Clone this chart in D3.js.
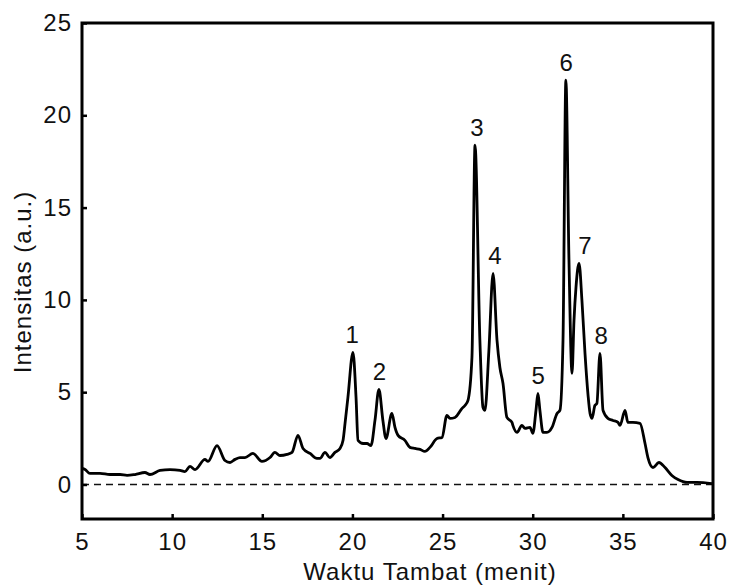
<!DOCTYPE html>
<html>
<head>
<meta charset="utf-8">
<script src="https://d3js.org/d3.v7.min.js"></script>
<style>
  body { margin: 0; background: #fff; }
  text { font-family: "Liberation Sans", Arial, sans-serif; fill: #111; }
</style>
</head>
<body>
<script>
// chromatogram trace (time in minutes, intensity in a.u.)
var times = [5.0, 5.17, 5.44, 6.0, 6.55, 7.11, 7.5, 7.94, 8.49, 8.77, 9.33, 9.88, 10.44, 10.71, 10.99,
  11.27, 11.82, 11.99, 12.49, 12.93, 13.21, 13.49, 13.76, 14.04, 14.48, 14.98, 15.43, 15.70, 15.98,
  16.37, 16.65, 16.98, 17.26, 17.65, 18.03, 18.20, 18.48, 18.75, 19.03, 19.31, 19.48, 19.59, 19.75,
  20.03, 20.20, 20.31, 20.59, 20.81, 21.03, 21.25, 21.47, 21.69, 21.86, 22.19, 22.36, 22.53, 22.91,
  23.19, 23.47, 23.75, 24.02, 24.30, 24.69, 24.97, 25.24, 25.41, 25.69, 26.08, 26.24, 26.41, 26.63,
  26.80, 27.07, 27.24, 27.35, 27.57, 27.80, 28.02, 28.18, 28.35, 28.57, 28.85, 28.90, 29.13, 29.40,
  29.57, 29.85, 30.01, 30.18, 30.29, 30.40, 30.57, 30.79, 31.07, 31.35, 31.51, 31.68, 31.84, 32.01,
  32.18, 32.29, 32.40, 32.57, 32.73, 32.90, 33.07, 33.18, 33.29, 33.45, 33.56, 33.73, 33.90, 34.17,
  34.45, 34.73, 34.84, 35.12, 35.28, 35.56, 35.95, 36.23, 36.39, 36.67, 37.00, 37.34, 37.72, 38.06,
  38.56, 39.11, 39.94];
var intensity = [0.87, 0.81, 0.60, 0.60, 0.54, 0.54, 0.49, 0.54, 0.65, 0.54, 0.76, 0.81, 0.76, 0.70, 0.98,
  0.81, 1.36, 1.25, 2.11, 1.30, 1.19, 1.36, 1.46, 1.46, 1.68, 1.25, 1.46, 1.74, 1.57,
  1.63, 1.74, 2.66, 1.95, 1.68, 1.41, 1.41, 1.74, 1.46, 1.74, 1.95, 2.39, 3.31, 4.72,
  7.16, 4.72, 2.39, 2.22, 2.22, 2.11, 3.47, 5.15, 3.47, 2.49, 3.85, 3.09, 2.66, 2.39,
  2.01, 1.95, 1.90, 1.79, 2.01, 2.49, 2.55, 3.74, 3.58, 3.63, 4.12, 4.28, 4.56, 6.89,
  18.38, 7.81, 4.18, 4.01, 7.27, 11.44, 7.81, 6.34, 5.48, 3.63, 3.36, 3.20, 2.82, 3.20,
  3.04, 3.09, 2.77, 4.01, 4.93, 4.01, 2.82, 2.82, 3.09, 3.85, 4.01, 7.81, 21.91, 12.2,
  6.02, 8.89, 10.68, 11.98, 9.98, 7.10, 4.83, 3.85, 3.58, 4.28, 4.39, 7.10, 4.01, 3.58,
  3.47, 3.36, 3.20, 4.01, 3.36, 3.36, 3.31, 2.22, 1.46, 0.92, 1.19, 0.92, 0.49, 0.27,
  0.11, 0.11, 0.05];

// numbered peaks
var peakLabels = ["1", "2", "3", "4", "5", "6", "7", "8"];
var peakTimes = [19.98, 21.5, 26.9, 27.9, 30.3, 31.85, 32.9, 33.8];
var peakHeights = [7.16, 5.15, 18.38, 11.44, 4.93, 21.91, 11.98, 7.10];

var xTicks = [5, 10, 15, 20, 25, 30, 35, 40];
var yTicks = [0, 5, 10, 15, 20, 25];

var W = 731, H = 588;
var m = {left: 82, right: 18, top: 23, bottom: 69};
var fs = "24px";

var svg = d3.select("body").append("svg")
  .attr("width", W).attr("height", H);

var x = d3.scaleLinear().domain([5, 40]).range([m.left, W - m.right]);
var y = d3.scaleLinear().domain([-1.87, 25]).range([H - m.bottom, m.top]);

// zero baseline, dashed
svg.append("line")
  .attr("x1", x(5)).attr("x2", x(40))
  .attr("y1", y(0)).attr("y2", y(0))
  .attr("stroke", "#111").attr("stroke-width", 1.4)
  .attr("stroke-dasharray", "7,5");

// trace
var pts = times.map(function (t, i) { return [t, intensity[i]]; });
var line = d3.line()
  .x(function (d) { return x(d[0]); })
  .y(function (d) { return y(d[1]); })
  .curve(d3.curveMonotoneX);

svg.append("path")
  .datum(pts)
  .attr("d", line)
  .attr("fill", "none")
  .attr("stroke", "#000")
  .attr("stroke-width", 2.8)
  .attr("stroke-linejoin", "round");

// axes: ticks point inward
var xAxis = svg.append("g")
  .attr("transform", "translate(0," + (H - m.bottom) + ")")
  .call(d3.axisBottom(x).tickValues(xTicks).tickSize(-5).tickPadding(14).tickSizeOuter(0));
var yAxis = svg.append("g")
  .attr("transform", "translate(" + m.left + ",0)")
  .call(d3.axisLeft(y).tickValues(yTicks).tickSize(-5).tickPadding(10).tickSizeOuter(0));

[xAxis, yAxis].forEach(function (g) {
  g.select(".domain").remove();
  g.selectAll("line").attr("stroke", "#000").attr("stroke-width", 2.5);
  g.selectAll("text").style("font-size", fs).style("letter-spacing", "1px")
    .style("font-family", "Liberation Sans, Arial, sans-serif").attr("fill", "#111");
});

// frame
svg.append("rect")
  .attr("x", x(5)).attr("y", y(25))
  .attr("width", x(40) - x(5)).attr("height", y(-1.87) - y(25))
  .attr("fill", "none").attr("stroke", "#000").attr("stroke-width", 3);

// peak numbers
svg.selectAll("text.peak")
  .data(peakLabels)
  .enter().append("text")
  .attr("class", "peak")
  .attr("x", function (d, i) { return x(peakTimes[i]); })
  .attr("y", function (d, i) { return y(peakHeights[i]) - 9; })
  .attr("text-anchor", "middle")
  .style("font-size", fs)
  .text(function (d) { return d; });

// axis titles
svg.append("text")
  .attr("x", 430).attr("y", 580)
  .attr("text-anchor", "middle")
  .style("font-size", fs).style("letter-spacing", "1px")
  .text("Waktu Tambat (menit)");

svg.append("text")
  .attr("transform", "translate(31,282) rotate(-90)")
  .attr("text-anchor", "middle")
  .style("font-size", fs).style("letter-spacing", "1px")
  .text("Intensitas (a.u.)");
</script>
</body>
</html>
